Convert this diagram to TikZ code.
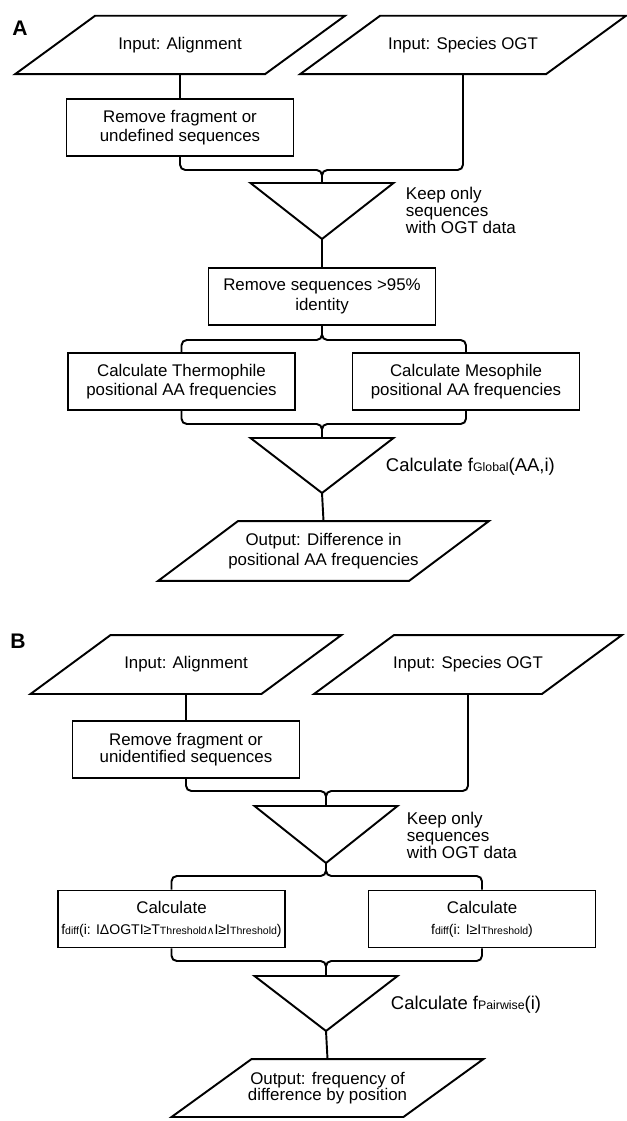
\documentclass[tikz,border=0pt]{standalone}
\usepackage{fontspec}
\setsansfont{Liberation Sans}
\newfontfamily\symfont{DejaVu Sans}

\newcommand{\subtxt}[2]{{\fontsize{#1}{#1}\selectfont #2}}

\tikzset{
  inout/.style={rectangle, inner sep=0pt, minimum height=1.13cm, align=center,
    append after command={\pgfextra{\draw ([xshift=-0.8cm]\tikzlastnode.south west)
      -- ([xshift=-0.8cm]\tikzlastnode.south east) -- ([xshift=0.8cm]\tikzlastnode.north east)
      -- ([xshift=0.8cm]\tikzlastnode.north west) -- cycle;}}},
  stepbox/.style={draw, rectangle, inner sep=0pt, minimum width=4.54cm,
    minimum height=1.14cm, align=center},
  flow/.style={rounded corners=3pt},
  note/.style={anchor=west, align=left, inner sep=0pt},
  panel/.style={font=\sffamily\bfseries\fontsize{12}{12}\selectfont}
}

\begin{document}
\begin{tikzpicture}[x=0.02cm, y=-0.02cm, line width=1.1pt,
  every node/.style={font=\sffamily\fontsize{9.6}{11}\selectfont}]
  \useasboundingbox (0,0) rectangle (626,1121);

  % Panel A
  \node[panel] (labA) at (20,28) {A};
  \node[inout, minimum width=4.96cm] (inA1) at (180,45) {Input: Alignment};
  \node[inout, minimum width=4.88cm] (inA2) at (463,45) {Input: Species OGT};
  \node[stepbox] (rmA1) at (180,127.5) {Remove fragment or\\undefined sequences};
  \coordinate (jA1) at (322,170);
  \coordinate (kA1) at (322,183);
  \coordinate (tipA1) at (322,239);
  \draw (kA1) ++(-71.5,0) -- ++(143,0) -- (tipA1) -- cycle;
  \node[note, font=\sffamily\fontsize{9.7}{9.7}\selectfont] (kpA) at (405,210)
    {Keep only\\sequences\\with OGT data};
  \node[stepbox] (rmA2) at (322,296.5) {Remove sequences >95\%\\identity};
  \coordinate (sA) at (322,340);
  \node[stepbox] (thA) at (181.5,381.5) {Calculate Thermophile\\positional AA frequencies};
  \node[stepbox] (meA) at (466,381.5) {Calculate Mesophile\\positional AA frequencies};
  \coordinate (jA2) at (322,424);
  \coordinate (kA2) at (322,438);
  \coordinate (tipA2) at (322,493);
  \draw (kA2) ++(-71.5,0) -- ++(143,0) -- (tipA2) -- cycle;
  \node[note, font=\sffamily\fontsize{10.5}{12}\selectfont] (cgA) at (385,467)
    {Calculate f\subtxt{7}{Global}(AA,i)};
  \node[inout, minimum width=4.98cm, minimum height=1.16cm] (outA) at (323.5,551)
    {Output: Difference in\\positional AA frequencies};

  \draw (inA1.south) -- (rmA1.north);
  \draw[flow] (rmA1.south) |- (jA1) -- (kA1);
  \draw[flow] (inA2.south) |- (jA1) -- (kA1);
  \draw (tipA1) -- (rmA2.north);
  \draw[flow] (rmA2.south) -- (sA) -| (thA.north);
  \draw[flow] (rmA2.south) -- (sA) -| (meA.north);
  \draw[flow] (thA.south) |- (jA2) -- (kA2);
  \draw[flow] (meA.south) |- (jA2) -- (kA2);
  \draw (tipA2) -- (outA.north);

  % Panel B
  \node[panel] (labB) at (18,641) {B};
  \node[inout, minimum width=4.58cm, minimum height=1.14cm] (inB1) at (186,664.5) {Input: Alignment};
  \node[inout, minimum width=4.52cm, minimum height=1.14cm] (inB2) at (468,664.5) {Input: Species OGT};
  \node[stepbox, font=\sffamily\fontsize{9.6}{9.8}\selectfont] (rmB1) at (186,749.5)
    {Remove fragment or\\unidentified sequences};
  \coordinate (jB1) at (326,791);
  \coordinate (kB1) at (326,806);
  \coordinate (tipB1) at (326,863);
  \draw (kB1) ++(-71.5,0) -- ++(143,0) -- (tipB1) -- cycle;
  \node[note, font=\sffamily\fontsize{9.7}{9.7}\selectfont] (kpB) at (406,835)
    {Keep only\\sequences\\with OGT data};
  \coordinate (sB) at (326,876);
  \node[stepbox] (cdB1) at (171.5,919)
    {Calculate\\[1pt]{\fontsize{8}{8}\selectfont f\subtxt{6}{diff}(i: IΔOGTI≥T\subtxt{6}{Threshold}{\symfont\subtxt{6}{∧}}I≥I\subtxt{6}{Threshold})}};
  \node[stepbox] (cdB2) at (482,919)
    {Calculate\\[1pt]{\fontsize{8}{8}\selectfont f\subtxt{6}{diff}(i: I≥I\subtxt{6}{Threshold})}};
  \coordinate (jB2) at (326,961);
  \coordinate (kB2) at (326,976);
  \coordinate (tipB2) at (326,1031);
  \draw (kB2) ++(-71.5,0) -- ++(143,0) -- (tipB2) -- cycle;
  \node[note, font=\sffamily\fontsize{10.5}{12}\selectfont] (cpB) at (390,1005)
    {Calculate f\subtxt{7}{Pairwise}(i)};
  \node[inout, minimum width=4.6cm, minimum height=1.12cm,
    font=\sffamily\fontsize{9.6}{9.4}\selectfont] (outB) at (327.5,1088)
    {Output: frequency of\\difference by position};

  \draw (inB1.south) -- (rmB1.north);
  \draw[flow] (rmB1.south) |- (jB1) -- (kB1);
  \draw[flow] (inB2.south) |- (jB1) -- (kB1);
  \draw[flow] (tipB1) -- (sB) -| (cdB1.north);
  \draw[flow] (tipB1) -- (sB) -| (cdB2.north);
  \draw[flow] (cdB1.south) |- (jB2) -- (kB2);
  \draw[flow] (cdB2.south) |- (jB2) -- (kB2);
  \draw (tipB2) -- (outB.north);
\end{tikzpicture}
\end{document}
